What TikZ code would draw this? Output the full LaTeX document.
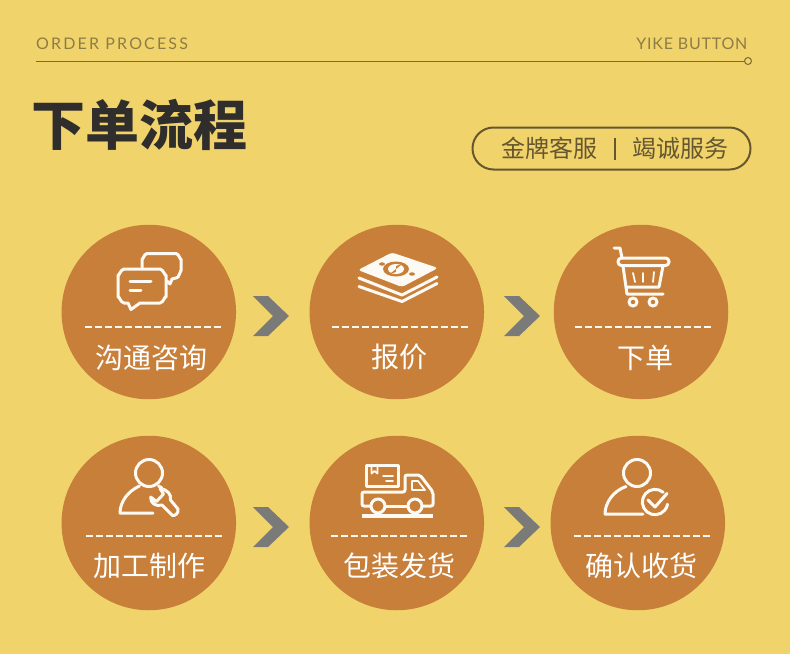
\documentclass[tikz,border=0pt]{standalone}
\usepackage{fontspec}
\newfontfamily\cjk{Noto Sans CJK SC}
\newfontfamily\latn[LetterSpace=13.5]{Lato}
\newfontfamily\latnb[LetterSpace=4.8]{Lato}
\definecolor{bgc}{HTML}{F1D36B}
\definecolor{disc}{HTML}{C87F3A}
\definecolor{chev}{HTML}{7A7A78}
\definecolor{hair}{HTML}{7C6A38}
\definecolor{headc}{HTML}{8E7C46}
\definecolor{pillc}{HTML}{665730}
\definecolor{titlec}{HTML}{302E2C}
\definecolor{inkw}{HTML}{FDF9F3}
\tikzset{
  disc/.style={circle,fill=disc,minimum size=174.5pt,inner sep=0pt,draw=none},
  lab/.style={font=\cjk\fontsize{28}{28}\selectfont,text=white,inner sep=0pt},
  dashline/.style={inkw,line width=2.2pt,dash pattern=on 7pt off 2.9pt},
  ico/.style={inkw,line width=3pt,line join=round,line cap=round},
  thinico/.style={inkw,line width=1.8pt,line join=round,line cap=round},
  chevron/.style={fill=chev,draw=none},
  pilltext/.style={font=\cjk\fontsize{24}{24}\selectfont,text=pillc,inner sep=0pt},
}
\begin{document}
\begin{tikzpicture}[x=1pt,y=-1pt]
\useasboundingbox (0,0) rectangle (790,654);
\fill[bgc] (0,0) rectangle (790,654);
% header
\node[font=\latn\fontsize{16}{16}\selectfont,text=headc,inner sep=0pt,anchor=west] (order) at (36,43.5) {ORDER PROCESS};
\node[font=\latnb\fontsize{16}{16}\selectfont,text=headc,inner sep=0pt,anchor=east] (yike) at (747.5,43.5) {YIKE BUTTON};
\node[circle,draw=hair,line width=1pt,minimum size=7pt,inner sep=0pt] (dot) at (748,61) {};
\coordinate (ruleL) at (36,61);
\draw[hair,line width=1pt] (ruleL) -- (dot.west);
\node[font=\cjk\bfseries\fontsize{54}{54}\selectfont,text=titlec,inner sep=0pt] (title) at (139,124.5) {下单流程};
\node[draw=pillc,line width=2pt,rounded corners=21pt,minimum width=278pt,minimum height=42pt,inner sep=0pt] (pill) at (611.5,148.5) {};
\node[pilltext] (p1) at (549.5,148.5) {金牌客服};
\node[pilltext] (p2) at (680,148.5) {竭诚服务};
\draw[pillc,line width=2pt] (615,138) -- (615,160);
% discs
\node[disc] (c1) at (148.8,312) {};
\node[disc] (c2) at (396.8,312) {};
\node[disc] (c3) at (641,312) {};
\node[disc] (c4) at (148.8,523) {};
\node[disc] (c5) at (396.8,523) {};
\node[disc] (c6) at (637.8,523) {};
% chevrons
\foreach \cx/\cy in {253/316,504/316,253/527,504/527}{
  \fill[chevron] (\cx,\cy-20) -- (\cx+15,\cy-20) -- (\cx+36,\cy) -- (\cx+15,\cy+20) -- (\cx,\cy+20) -- (\cx+20,\cy) -- cycle;
}
% dashes
\draw[dashline] (85,327) -- (223,327);
\draw[dashline] (332,327) -- (470,327);
\draw[dashline] (575,327) -- (713,327);
\draw[dashline] (86,536) -- (224,536);
\draw[dashline] (331,536) -- (469,536);
\draw[dashline] (574,536) -- (712,536);
% labels
\node[lab] (l1) at (151,358) {沟通咨询};
\node[lab] (l2) at (399,357) {报价};
\node[lab] (l3) at (645,358) {下单};
\node[lab] (l4) at (149,566) {加工制作};
\node[lab] (l5) at (399,566) {包装发货};
\node[lab] (l6) at (641,566) {确认收货};
% icon: chat
\draw[ico] (142,268) -- (142,259) to[out=-90,in=180] (147,253.5) -- (176,253.5) to[out=0,in=-90] (181,259) -- (181,271) to[out=90,in=-20] (176,278) -- (172,279) -- (170,284) -- (167,281);
\draw[ico,fill=disc] (124,269) -- (160,269) to[out=0,in=-90] (166,275) -- (166,297) to[out=90,in=0] (160,303) -- (140,303) -- (131,309.5) -- (128,303) -- (124,303) to[out=180,in=90] (118,297) -- (118,275) to[out=-90,in=180] cycle;
\draw[ico] (130,281.5) -- (151,281.5);
\draw[ico] (130,290.5) -- (141,290.5);
% icon: money
\fill[inkw,rounded corners=3pt] (358,270) -- (392,252.5) -- (438,268) -- (402,287) -- cycle;
\fill[disc] (396,269) ellipse [x radius=13pt,y radius=7.5pt];
\fill[inkw] (396,269) ellipse [x radius=8pt,y radius=5pt];
\draw[disc,line width=1.6pt] (391,273) .. controls (403,273) and (389,265) .. (401,265);
\fill[disc] (382,264) ellipse [x radius=3pt,y radius=1.7pt];
\fill[disc] (412,274) ellipse [x radius=3pt,y radius=1.7pt];
\draw[ico] (359,278) -- (402,295) -- (437,277);
\draw[ico] (359,286.5) -- (402,301.5) -- (437,283.5);
% icon: cart
\draw[ico] (614,248) -- (620,248) -- (622,258);
\draw[ico,rounded corners=3.5pt] (622,258) -- (669,258) -- (669,265.5) -- (618,265.5) -- (618,258) -- (622,258);
\draw[ico] (623,266) -- (627,294) -- (663,294);
\draw[ico] (663,266) -- (659,287) -- (626,287);
\draw[thinico] (633,273) -- (635,282);
\draw[thinico] (643,273) -- (643,282);
\draw[thinico] (654,272) -- (653,282);
\draw[ico] (633,302) circle (4pt);
\draw[ico] (653,302) circle (4pt);
% icon: person + wrench
\draw[ico] (149,473) circle (13.5pt);
\draw[ico] (139.5,486) .. controls (128,491) and (120,502) .. (120,513) -- (153,513);
\draw[ico] (158.5,486) -- (162,488);
\draw[ico,fill=disc] (150.7,497) -- (156.5,501.5) -- (163.5,494) -- (160,488.5) .. controls (167,489) and (172,495) .. (170.5,500) -- (178,509) .. controls (179,513) and (175,516) .. (172.5,515.5) -- (162,505) .. controls (156,507) and (150,503) .. (150.7,497) -- cycle;
% icon: truck
\draw[ico] (366,465) rectangle (398,486);
\draw[thinico] (371.5,466) -- (371.5,473.5) -- (374.5,471) -- (377.5,473.5) -- (377.5,466);
\draw[thinico] (383,476) -- (393,476);
\draw[thinico] (386,481) -- (393,481);
\draw[ico,rounded corners=2pt] (371,506) -- (362,506) -- (362,492) -- (405,492) -- (405,475) -- (420,475) -- (433,492) -- (433,506) -- (422,506);
\draw[ico] (385,506) -- (408,506);
\draw[thinico] (412,481) -- (412,490) -- (425,490) -- (418,481) -- cycle;
\draw[ico] (378,506) circle (7pt);
\draw[ico] (415,506) circle (7pt);
\draw[ico,line cap=butt,line width=3.2pt] (362,516) -- (433,516);
% icon: person + check
\draw[ico] (637,473) circle (13.5pt);
\draw[ico] (626,486.5) .. controls (613,491) and (605,503) .. (605,514) -- (643,514);
\draw[ico] (663.2,492.3) arc[start angle=50,end angle=350,radius=12.7pt];
\draw[ico] (648,500) -- (655,507) -- (667,493.5);
\end{tikzpicture}
\end{document}
